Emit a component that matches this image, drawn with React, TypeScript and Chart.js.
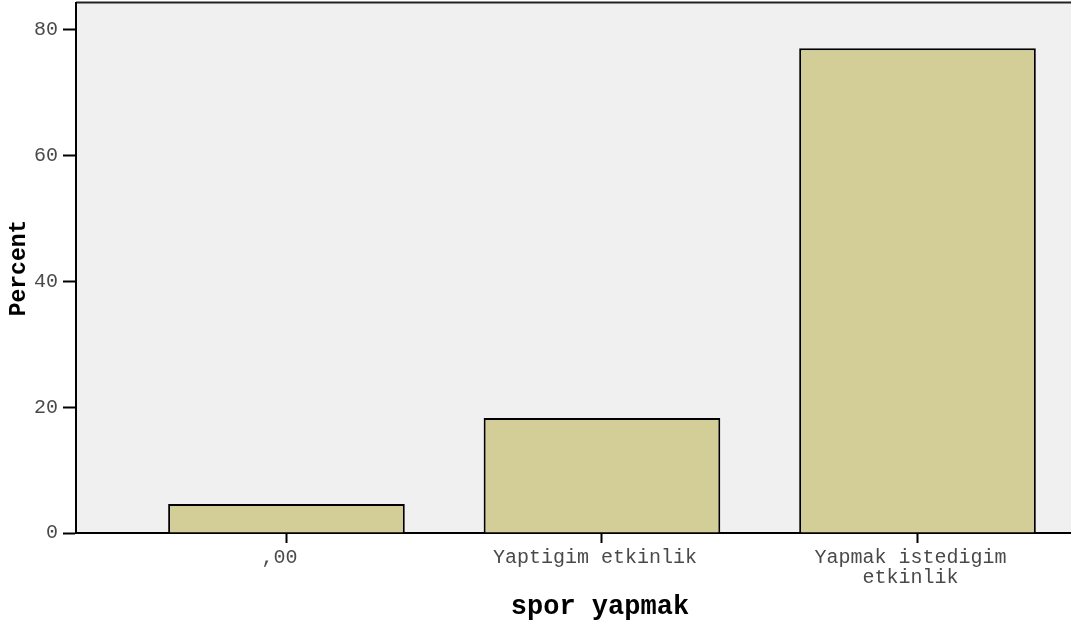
import React, { useEffect, useRef } from "react";
import { Chart, registerables } from "chart.js";

Chart.register(...registerables);

const categories: string[][] = [[",00"], ["Yaptigim etkinlik"], ["Yapmak istedigim", "etkinlik"]];
const percentValues: number[] = [4.6, 18.3, 77.1];
const yTicks: number[] = [0, 20, 40, 60, 80];
const xTitle = "spor yapmak";
const yTitle = "Percent";

const MONO = '"Liberation Mono", "Courier New", monospace';

const bgPlugin = {
  id: "plotBg",
  beforeDraw(chart: any) {
    const { ctx, chartArea } = chart;
    ctx.save();
    ctx.fillStyle = "#F0F0F0";
    ctx.fillRect(chartArea.left, chartArea.top, chartArea.right - chartArea.left, chartArea.bottom - chartArea.top);
    ctx.strokeStyle = "#222";
    ctx.lineWidth = 2;
    ctx.beginPath();
    ctx.moveTo(chartArea.left, chartArea.top - 0.5);
    ctx.lineTo(chartArea.right, chartArea.top - 0.5);
    ctx.stroke();
    ctx.restore();
  },
  afterDraw(chart: any) {
    const { ctx } = chart;
    const xs = chart.scales.x;
    ctx.save();
    ctx.fillStyle = "#000";
    ctx.font = `bold 27px ${MONO}`;
    ctx.textAlign = "center";
    ctx.textBaseline = "middle";
    ctx.fillText(xTitle, xs.getPixelForValue(1) - 2, 607);
    ctx.restore();
  },
};

export default function App() {
  const ref = useRef<HTMLCanvasElement | null>(null);
  useEffect(() => {
    if (!ref.current) return;
    const chart = new Chart(ref.current, {
      type: "bar",
      data: {
        datasets: [
          {
            data: percentValues.map((v, i) => ({ x: i, y: v })),
            backgroundColor: "#D3CE97",
            borderColor: "#000",
            borderWidth: 2,
            barPercentage: 0.75,
            categoryPercentage: 1,
          },
        ],
      },
      options: {
        animation: false,
        responsive: true,
        maintainAspectRatio: false,
        layout: { padding: { top: 3, left: 0, right: 0, bottom: 0 } },
        plugins: { legend: { display: false }, tooltip: { enabled: false } },
        scales: {
          x: {
            type: "linear",
            offset: false,
            min: -0.667,
            max: 2.4865,
            afterBuildTicks: (s: any) => {
              s.ticks = categories.map((_, i) => ({ value: i }));
            },
            afterFit: (s: any) => {
              s.height = 89;
              s.paddingLeft = 0;
              s.paddingRight = 0;
            },
            ticks: {
              callback: (v: any) => categories[v] ?? "",
              font: { family: MONO, size: 20, lineHeight: 1.0 },
              color: "#4a4a4a",
              padding: 5,
              labelOffset: -7,
              maxRotation: 0,
              autoSkip: false,
            },
            grid: { offset: false, drawOnChartArea: false, drawTicks: true, tickLength: 10, color: "#000", tickWidth: 2 },
            border: { display: true, color: "#000", width: 2 },
          },
          y: {
            min: 0,
            max: 84.29,
            afterBuildTicks: (s: any) => {
              s.ticks = yTicks.map((v) => ({ value: v }));
            },
            afterFit: (s: any) => {
              s.width = 76;
              s.paddingTop = 0;
              s.paddingBottom = 0;
            },
            ticks: {
              font: { family: MONO, size: 20 },
              color: "#4a4a4a",
              padding: 5,
            },
            grid: { drawOnChartArea: false, drawTicks: true, tickLength: 13, color: "#000", tickWidth: 2 },
            border: { display: true, color: "#000", width: 2 },
            title: {
              display: true,
              text: yTitle,
              color: "#000",
              font: { family: MONO, size: 23, weight: "bold" },
              padding: { top: 5, bottom: 0 },
            },
          },
        },
      },
      plugins: [bgPlugin],
    });
    return () => chart.destroy();
  }, []);
  return (
    <div style={{ position: "absolute", left: 0, top: 0, width: 1071, height: 622, background: "#fff" }}>
      <canvas ref={ref} />
    </div>
  );
}
